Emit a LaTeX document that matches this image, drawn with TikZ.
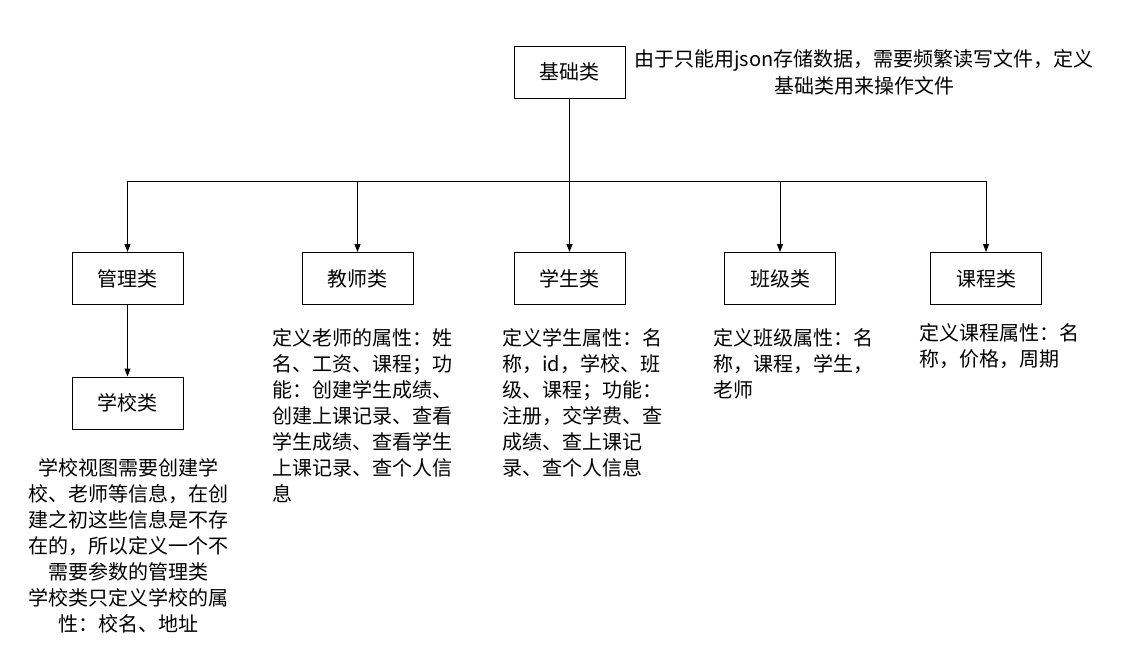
\documentclass[tikz,border=0pt]{standalone}
\usepackage{fontspec}
\setmainfont{Noto Sans CJK SC}
\usetikzlibrary{arrows.meta}
\begin{document}
\begin{tikzpicture}[x=1pt,y=-1pt,
  cls/.style={draw,line width=1pt,minimum width=111pt,minimum height=52pt,inner sep=0pt,font=\fontsize{20}{26}\selectfont},
  desc/.style={inner sep=0pt,font=\fontsize{20}{26}\selectfont,align=left,anchor=north west},
  cdesc/.style={inner sep=0pt,font=\fontsize{20}{26}\selectfont,align=center,anchor=north},
  conn/.style={line width=1pt},
  arr/.style={line width=1pt,-{Triangle[length=8pt,width=6pt]}}]
\useasboundingbox[fill=white] (0,0) rectangle (1145,664);
\node[cls] (base) at (569.5,72) {基础类};
\node[cls] (mgr) at (127.5,278.5) {管理类};
\node[cls] (school) at (127.5,403) {学校类};
\node[cls] (teacher) at (357.5,278.5) {教师类};
\node[cls] (student) at (569.5,278.5) {学生类};
\node[cls] (klass) at (780,278.5) {班级类};
\node[cls] (course) at (986,278.5) {课程类};
\coordinate (bus) at (569.5,181);
\coordinate (busL) at (127.5,181);
\coordinate (busT) at (357.5,181);
\coordinate (busC) at (780,181);
\coordinate (busR) at (986,181);
\draw[conn] (base.south) -- (bus);
\draw[conn] (busL) -- (busR);
\draw[arr] (busL) -- (mgr.north);
\draw[arr] (busT) -- (teacher.north);
\draw[arr] (bus) -- (student.north);
\draw[arr] (busC) -- (klass.north);
\draw[arr] (busR) -- (course.north);
\draw[arr] (mgr.south) -- (school.north);
\node[cdesc,font=\fontsize{20}{27}\selectfont] (basetxt) at (864,49) {由于只能用json存储数据，需要频繁读写文件，定义\\基础类用来操作文件};
\node[cdesc] (schooltxt) at (128,458) {学校视图需要创建学\\校、老师等信息，在创\\建之初这些信息是不存\\在的，所以定义一个不\\需要参数的管理类\\学校类只定义学校的属\\性：校名、地址};
\node[desc] (teachertxt) at (272,328) {定义老师的属性：姓\\名、工资、课程；功\\能：创建学生成绩、\\创建上课记录、查看\\学生成绩、查看学生\\上课记录、查个人信\\息};
\node[desc] (studenttxt) at (502,328) {定义学生属性：名\\称，id，学校、班\\级、课程；功能：\\注册，交学费、查\\成绩、查上课记\\录、查个人信息};
\node[desc] (klasstxt) at (713,328) {定义班级属性：名\\称，课程，学生，\\老师};
\node[desc] (coursetxt) at (919,323) {定义课程属性：名\\称，价格，周期};
\end{tikzpicture}
\end{document}
